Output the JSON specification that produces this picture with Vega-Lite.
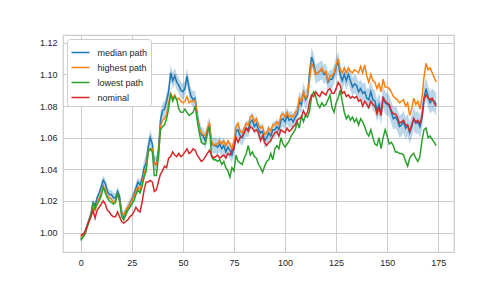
{
"$schema":"https://vega.github.io/schema/vega-lite/v6.json",
"width":391,"height":217,
"autosize":{"type":"none"},
"padding":{"left":63,"top":35,"right":50,"bottom":36},
"background":"white",
"config":{"view":{"stroke":"#cccccc","strokeWidth":1.25},"font":"Liberation Sans",
"axis":{"domain":false,"ticks":false,"grid":true,"gridColor":"#cccccc","gridWidth":1,"labelColor":"#262626","labelFontSize":9,"labelFont":"Liberation Sans","title":null,"labelOverlap":false},
"legend":{"labelFont":"Liberation Sans","labelFontSize":9,"labelColor":"#262626"}},
"data":{"values":[
{"x":0,"m":0.996,"h":0.997,"l":0.995,"n":0.998,"lo":0.994,"hi":0.998},
{"x":1,"m":0.998,"h":0.998,"l":0.997,"n":0.999,"lo":0.996,"hi":1.000},
{"x":2,"m":1.000,"h":0.999,"l":0.999,"n":1.000,"lo":0.998,"hi":1.002},
{"x":3,"m":1.004,"h":1.003,"l":1.003,"n":1.004,"lo":1.002,"hi":1.006},
{"x":4,"m":1.008,"h":1.007,"l":1.007,"n":1.007,"lo":1.006,"hi":1.010},
{"x":5,"m":1.012,"h":1.011,"l":1.011,"n":1.010,"lo":1.010,"hi":1.014},
{"x":6,"m":1.019,"h":1.016,"l":1.019,"n":1.014,"lo":1.017,"hi":1.021},
{"x":7,"m":1.017,"h":1.014,"l":1.015,"n":1.009,"lo":1.015,"hi":1.019},
{"x":8,"m":1.022,"h":1.018,"l":1.018,"n":1.014,"lo":1.020,"hi":1.024},
{"x":9,"m":1.025,"h":1.022,"l":1.020,"n":1.016,"lo":1.023,"hi":1.027},
{"x":10,"m":1.029,"h":1.025,"l":1.023,"n":1.018,"lo":1.026,"hi":1.032},
{"x":11,"m":1.033,"h":1.029,"l":1.029,"n":1.020,"lo":1.030,"hi":1.036},
{"x":12,"m":1.031,"h":1.027,"l":1.025,"n":1.018,"lo":1.028,"hi":1.034},
{"x":13,"m":1.026,"h":1.023,"l":1.022,"n":1.014,"lo":1.023,"hi":1.029},
{"x":14,"m":1.024,"h":1.022,"l":1.020,"n":1.013,"lo":1.021,"hi":1.027},
{"x":15,"m":1.024,"h":1.021,"l":1.019,"n":1.011,"lo":1.021,"hi":1.027},
{"x":16,"m":1.022,"h":1.019,"l":1.018,"n":1.010,"lo":1.019,"hi":1.025},
{"x":17,"m":1.022,"h":1.020,"l":1.019,"n":1.010,"lo":1.019,"hi":1.025},
{"x":18,"m":1.026,"h":1.024,"l":1.025,"n":1.013,"lo":1.023,"hi":1.029},
{"x":19,"m":1.023,"h":1.020,"l":1.020,"n":1.010,"lo":1.020,"hi":1.026},
{"x":20,"m":1.013,"h":1.012,"l":1.010,"n":1.007,"lo":1.010,"hi":1.016},
{"x":21,"m":1.010,"h":1.011,"l":1.008,"n":1.006,"lo":1.007,"hi":1.013},
{"x":22,"m":1.013,"h":1.014,"l":1.011,"n":1.007,"lo":1.010,"hi":1.016},
{"x":23,"m":1.016,"h":1.016,"l":1.014,"n":1.008,"lo":1.013,"hi":1.019},
{"x":24,"m":1.018,"h":1.018,"l":1.016,"n":1.010,"lo":1.015,"hi":1.021},
{"x":25,"m":1.021,"h":1.020,"l":1.018,"n":1.011,"lo":1.018,"hi":1.024},
{"x":26,"m":1.024,"h":1.023,"l":1.020,"n":1.013,"lo":1.021,"hi":1.027},
{"x":27,"m":1.028,"h":1.026,"l":1.024,"n":1.016,"lo":1.025,"hi":1.031},
{"x":28,"m":1.032,"h":1.029,"l":1.027,"n":1.014,"lo":1.029,"hi":1.035},
{"x":29,"m":1.030,"h":1.027,"l":1.025,"n":1.013,"lo":1.027,"hi":1.033},
{"x":30,"m":1.034,"h":1.031,"l":1.029,"n":1.019,"lo":1.031,"hi":1.037},
{"x":31,"m":1.041,"h":1.037,"l":1.035,"n":1.027,"lo":1.036,"hi":1.046},
{"x":32,"m":1.044,"h":1.041,"l":1.039,"n":1.032,"lo":1.039,"hi":1.049},
{"x":33,"m":1.054,"h":1.051,"l":1.051,"n":1.032,"lo":1.049,"hi":1.059},
{"x":34,"m":1.060,"h":1.053,"l":1.053,"n":1.033,"lo":1.055,"hi":1.065},
{"x":35,"m":1.056,"h":1.053,"l":1.051,"n":1.032,"lo":1.051,"hi":1.061},
{"x":36,"m":1.044,"h":1.043,"l":1.036,"n":1.026,"lo":1.039,"hi":1.049},
{"x":37,"m":1.043,"h":1.043,"l":1.036,"n":1.027,"lo":1.038,"hi":1.048},
{"x":38,"m":1.052,"h":1.048,"l":1.047,"n":1.032,"lo":1.047,"hi":1.057},
{"x":39,"m":1.071,"h":1.067,"l":1.065,"n":1.037,"lo":1.066,"hi":1.076},
{"x":40,"m":1.077,"h":1.071,"l":1.067,"n":1.039,"lo":1.072,"hi":1.082},
{"x":41,"m":1.078,"h":1.072,"l":1.068,"n":1.042,"lo":1.073,"hi":1.083},
{"x":42,"m":1.083,"h":1.075,"l":1.072,"n":1.041,"lo":1.078,"hi":1.088},
{"x":43,"m":1.089,"h":1.082,"l":1.078,"n":1.047,"lo":1.084,"hi":1.094},
{"x":44,"m":1.101,"h":1.088,"l":1.088,"n":1.048,"lo":1.096,"hi":1.106},
{"x":45,"m":1.096,"h":1.085,"l":1.083,"n":1.051,"lo":1.091,"hi":1.101},
{"x":46,"m":1.099,"h":1.087,"l":1.086,"n":1.049,"lo":1.094,"hi":1.104},
{"x":47,"m":1.095,"h":1.084,"l":1.084,"n":1.048,"lo":1.090,"hi":1.100},
{"x":48,"m":1.093,"h":1.085,"l":1.078,"n":1.050,"lo":1.088,"hi":1.098},
{"x":49,"m":1.090,"h":1.083,"l":1.076,"n":1.048,"lo":1.085,"hi":1.095},
{"x":50,"m":1.089,"h":1.082,"l":1.076,"n":1.049,"lo":1.084,"hi":1.094},
{"x":51,"m":1.091,"h":1.083,"l":1.078,"n":1.051,"lo":1.086,"hi":1.096},
{"x":52,"m":1.099,"h":1.086,"l":1.076,"n":1.053,"lo":1.094,"hi":1.104},
{"x":53,"m":1.091,"h":1.082,"l":1.074,"n":1.050,"lo":1.086,"hi":1.096},
{"x":54,"m":1.086,"h":1.083,"l":1.075,"n":1.051,"lo":1.081,"hi":1.091},
{"x":55,"m":1.084,"h":1.083,"l":1.076,"n":1.053,"lo":1.079,"hi":1.089},
{"x":56,"m":1.085,"h":1.084,"l":1.080,"n":1.052,"lo":1.080,"hi":1.090},
{"x":57,"m":1.074,"h":1.073,"l":1.071,"n":1.049,"lo":1.069,"hi":1.079},
{"x":58,"m":1.067,"h":1.066,"l":1.063,"n":1.047,"lo":1.062,"hi":1.072},
{"x":59,"m":1.062,"h":1.063,"l":1.057,"n":1.045,"lo":1.057,"hi":1.067},
{"x":60,"m":1.061,"h":1.062,"l":1.056,"n":1.046,"lo":1.056,"hi":1.066},
{"x":61,"m":1.058,"h":1.061,"l":1.056,"n":1.048,"lo":1.053,"hi":1.063},
{"x":62,"m":1.065,"h":1.066,"l":1.063,"n":1.050,"lo":1.060,"hi":1.070},
{"x":63,"m":1.068,"h":1.069,"l":1.067,"n":1.052,"lo":1.063,"hi":1.073},
{"x":64,"m":1.056,"h":1.058,"l":1.048,"n":1.049,"lo":1.051,"hi":1.061},
{"x":65,"m":1.055,"h":1.055,"l":1.046,"n":1.047,"lo":1.050,"hi":1.060},
{"x":66,"m":1.055,"h":1.056,"l":1.046,"n":1.048,"lo":1.050,"hi":1.060},
{"x":67,"m":1.054,"h":1.056,"l":1.045,"n":1.049,"lo":1.049,"hi":1.059},
{"x":68,"m":1.056,"h":1.058,"l":1.046,"n":1.047,"lo":1.051,"hi":1.061},
{"x":69,"m":1.053,"h":1.056,"l":1.043,"n":1.048,"lo":1.048,"hi":1.058},
{"x":70,"m":1.055,"h":1.058,"l":1.045,"n":1.049,"lo":1.050,"hi":1.060},
{"x":71,"m":1.051,"h":1.055,"l":1.041,"n":1.047,"lo":1.046,"hi":1.056},
{"x":72,"m":1.054,"h":1.058,"l":1.039,"n":1.050,"lo":1.049,"hi":1.059},
{"x":73,"m":1.052,"h":1.056,"l":1.035,"n":1.049,"lo":1.047,"hi":1.057},
{"x":74,"m":1.049,"h":1.053,"l":1.041,"n":1.052,"lo":1.044,"hi":1.054},
{"x":75,"m":1.054,"h":1.058,"l":1.039,"n":1.053,"lo":1.049,"hi":1.059},
{"x":76,"m":1.064,"h":1.067,"l":1.049,"n":1.060,"lo":1.059,"hi":1.069},
{"x":77,"m":1.065,"h":1.069,"l":1.045,"n":1.057,"lo":1.060,"hi":1.070},
{"x":78,"m":1.061,"h":1.064,"l":1.044,"n":1.060,"lo":1.056,"hi":1.066},
{"x":79,"m":1.060,"h":1.063,"l":1.043,"n":1.061,"lo":1.055,"hi":1.065},
{"x":80,"m":1.063,"h":1.066,"l":1.047,"n":1.063,"lo":1.058,"hi":1.068},
{"x":81,"m":1.066,"h":1.069,"l":1.050,"n":1.066,"lo":1.061,"hi":1.071},
{"x":82,"m":1.065,"h":1.068,"l":1.055,"n":1.064,"lo":1.060,"hi":1.070},
{"x":83,"m":1.070,"h":1.073,"l":1.049,"n":1.067,"lo":1.065,"hi":1.075},
{"x":84,"m":1.071,"h":1.074,"l":1.051,"n":1.066,"lo":1.066,"hi":1.076},
{"x":85,"m":1.067,"h":1.070,"l":1.048,"n":1.064,"lo":1.062,"hi":1.072},
{"x":86,"m":1.069,"h":1.072,"l":1.047,"n":1.065,"lo":1.064,"hi":1.074},
{"x":87,"m":1.065,"h":1.068,"l":1.043,"n":1.063,"lo":1.060,"hi":1.070},
{"x":88,"m":1.063,"h":1.066,"l":1.041,"n":1.058,"lo":1.058,"hi":1.068},
{"x":89,"m":1.064,"h":1.067,"l":1.038,"n":1.061,"lo":1.059,"hi":1.069},
{"x":90,"m":1.058,"h":1.062,"l":1.042,"n":1.057,"lo":1.053,"hi":1.063},
{"x":91,"m":1.060,"h":1.063,"l":1.045,"n":1.055,"lo":1.055,"hi":1.065},
{"x":92,"m":1.063,"h":1.066,"l":1.046,"n":1.057,"lo":1.058,"hi":1.068},
{"x":93,"m":1.061,"h":1.064,"l":1.050,"n":1.058,"lo":1.056,"hi":1.066},
{"x":94,"m":1.065,"h":1.068,"l":1.046,"n":1.061,"lo":1.060,"hi":1.070},
{"x":95,"m":1.065,"h":1.068,"l":1.053,"n":1.063,"lo":1.060,"hi":1.070},
{"x":96,"m":1.067,"h":1.070,"l":1.055,"n":1.064,"lo":1.062,"hi":1.072},
{"x":97,"m":1.065,"h":1.068,"l":1.053,"n":1.061,"lo":1.060,"hi":1.070},
{"x":98,"m":1.071,"h":1.074,"l":1.060,"n":1.065,"lo":1.066,"hi":1.076},
{"x":99,"m":1.072,"h":1.075,"l":1.056,"n":1.064,"lo":1.067,"hi":1.077},
{"x":100,"m":1.070,"h":1.073,"l":1.054,"n":1.063,"lo":1.065,"hi":1.075},
{"x":101,"m":1.074,"h":1.076,"l":1.056,"n":1.066,"lo":1.069,"hi":1.079},
{"x":102,"m":1.071,"h":1.073,"l":1.058,"n":1.064,"lo":1.066,"hi":1.076},
{"x":103,"m":1.072,"h":1.074,"l":1.061,"n":1.065,"lo":1.067,"hi":1.077},
{"x":104,"m":1.070,"h":1.073,"l":1.063,"n":1.067,"lo":1.065,"hi":1.075},
{"x":105,"m":1.073,"h":1.076,"l":1.065,"n":1.068,"lo":1.068,"hi":1.078},
{"x":106,"m":1.075,"h":1.077,"l":1.070,"n":1.071,"lo":1.069,"hi":1.081},
{"x":107,"m":1.083,"h":1.085,"l":1.066,"n":1.072,"lo":1.077,"hi":1.089},
{"x":108,"m":1.081,"h":1.083,"l":1.074,"n":1.073,"lo":1.075,"hi":1.087},
{"x":109,"m":1.089,"h":1.089,"l":1.070,"n":1.077,"lo":1.083,"hi":1.095},
{"x":110,"m":1.084,"h":1.085,"l":1.074,"n":1.074,"lo":1.078,"hi":1.090},
{"x":111,"m":1.086,"h":1.087,"l":1.073,"n":1.076,"lo":1.080,"hi":1.092},
{"x":112,"m":1.101,"h":1.096,"l":1.077,"n":1.083,"lo":1.095,"hi":1.107},
{"x":113,"m":1.111,"h":1.107,"l":1.086,"n":1.087,"lo":1.105,"hi":1.117},
{"x":114,"m":1.107,"h":1.104,"l":1.089,"n":1.086,"lo":1.101,"hi":1.113},
{"x":115,"m":1.100,"h":1.100,"l":1.086,"n":1.089,"lo":1.094,"hi":1.106},
{"x":116,"m":1.101,"h":1.101,"l":1.081,"n":1.087,"lo":1.095,"hi":1.107},
{"x":117,"m":1.102,"h":1.102,"l":1.079,"n":1.086,"lo":1.096,"hi":1.108},
{"x":118,"m":1.103,"h":1.104,"l":1.082,"n":1.089,"lo":1.097,"hi":1.109},
{"x":119,"m":1.100,"h":1.101,"l":1.080,"n":1.088,"lo":1.094,"hi":1.106},
{"x":120,"m":1.101,"h":1.102,"l":1.081,"n":1.087,"lo":1.095,"hi":1.107},
{"x":121,"m":1.095,"h":1.096,"l":1.084,"n":1.090,"lo":1.089,"hi":1.101},
{"x":122,"m":1.097,"h":1.099,"l":1.087,"n":1.091,"lo":1.091,"hi":1.103},
{"x":123,"m":1.097,"h":1.099,"l":1.079,"n":1.088,"lo":1.091,"hi":1.103},
{"x":124,"m":1.100,"h":1.101,"l":1.076,"n":1.088,"lo":1.094,"hi":1.106},
{"x":125,"m":1.105,"h":1.106,"l":1.082,"n":1.091,"lo":1.099,"hi":1.111},
{"x":126,"m":1.108,"h":1.110,"l":1.085,"n":1.095,"lo":1.102,"hi":1.114},
{"x":127,"m":1.100,"h":1.103,"l":1.090,"n":1.093,"lo":1.094,"hi":1.106},
{"x":128,"m":1.096,"h":1.101,"l":1.083,"n":1.088,"lo":1.090,"hi":1.102},
{"x":129,"m":1.100,"h":1.104,"l":1.076,"n":1.089,"lo":1.094,"hi":1.106},
{"x":130,"m":1.096,"h":1.101,"l":1.072,"n":1.086,"lo":1.090,"hi":1.102},
{"x":131,"m":1.100,"h":1.104,"l":1.074,"n":1.087,"lo":1.094,"hi":1.106},
{"x":132,"m":1.096,"h":1.102,"l":1.071,"n":1.085,"lo":1.090,"hi":1.102},
{"x":133,"m":1.092,"h":1.101,"l":1.073,"n":1.086,"lo":1.086,"hi":1.098},
{"x":134,"m":1.094,"h":1.103,"l":1.070,"n":1.085,"lo":1.088,"hi":1.100},
{"x":135,"m":1.093,"h":1.102,"l":1.072,"n":1.086,"lo":1.087,"hi":1.099},
{"x":136,"m":1.089,"h":1.101,"l":1.068,"n":1.083,"lo":1.083,"hi":1.095},
{"x":137,"m":1.091,"h":1.105,"l":1.072,"n":1.084,"lo":1.085,"hi":1.097},
{"x":138,"m":1.088,"h":1.101,"l":1.070,"n":1.080,"lo":1.082,"hi":1.094},
{"x":139,"m":1.089,"h":1.106,"l":1.067,"n":1.083,"lo":1.083,"hi":1.095},
{"x":140,"m":1.085,"h":1.099,"l":1.063,"n":1.081,"lo":1.079,"hi":1.091},
{"x":141,"m":1.084,"h":1.095,"l":1.061,"n":1.079,"lo":1.077,"hi":1.091},
{"x":142,"m":1.089,"h":1.100,"l":1.065,"n":1.083,"lo":1.082,"hi":1.096},
{"x":143,"m":1.084,"h":1.096,"l":1.060,"n":1.081,"lo":1.077,"hi":1.091},
{"x":144,"m":1.083,"h":1.095,"l":1.056,"n":1.080,"lo":1.076,"hi":1.090},
{"x":145,"m":1.077,"h":1.091,"l":1.055,"n":1.075,"lo":1.070,"hi":1.084},
{"x":146,"m":1.081,"h":1.094,"l":1.060,"n":1.079,"lo":1.074,"hi":1.088},
{"x":147,"m":1.075,"h":1.089,"l":1.053,"n":1.074,"lo":1.068,"hi":1.082},
{"x":148,"m":1.086,"h":1.097,"l":1.060,"n":1.085,"lo":1.079,"hi":1.093},
{"x":149,"m":1.082,"h":1.092,"l":1.065,"n":1.083,"lo":1.075,"hi":1.089},
{"x":150,"m":1.081,"h":1.092,"l":1.061,"n":1.082,"lo":1.074,"hi":1.088},
{"x":151,"m":1.080,"h":1.091,"l":1.056,"n":1.081,"lo":1.073,"hi":1.087},
{"x":152,"m":1.076,"h":1.089,"l":1.057,"n":1.077,"lo":1.069,"hi":1.083},
{"x":153,"m":1.072,"h":1.086,"l":1.055,"n":1.075,"lo":1.065,"hi":1.079},
{"x":154,"m":1.073,"h":1.085,"l":1.051,"n":1.075,"lo":1.066,"hi":1.080},
{"x":155,"m":1.071,"h":1.084,"l":1.051,"n":1.073,"lo":1.064,"hi":1.078},
{"x":156,"m":1.067,"h":1.082,"l":1.050,"n":1.069,"lo":1.060,"hi":1.074},
{"x":157,"m":1.068,"h":1.083,"l":1.050,"n":1.070,"lo":1.061,"hi":1.075},
{"x":158,"m":1.070,"h":1.084,"l":1.049,"n":1.071,"lo":1.063,"hi":1.077},
{"x":159,"m":1.066,"h":1.080,"l":1.045,"n":1.068,"lo":1.059,"hi":1.073},
{"x":160,"m":1.068,"h":1.082,"l":1.042,"n":1.068,"lo":1.061,"hi":1.075},
{"x":161,"m":1.063,"h":1.074,"l":1.047,"n":1.064,"lo":1.056,"hi":1.070},
{"x":162,"m":1.067,"h":1.078,"l":1.049,"n":1.068,"lo":1.060,"hi":1.074},
{"x":163,"m":1.072,"h":1.085,"l":1.050,"n":1.072,"lo":1.065,"hi":1.079},
{"x":164,"m":1.069,"h":1.081,"l":1.047,"n":1.070,"lo":1.062,"hi":1.076},
{"x":165,"m":1.070,"h":1.083,"l":1.045,"n":1.071,"lo":1.063,"hi":1.077},
{"x":166,"m":1.067,"h":1.078,"l":1.048,"n":1.069,"lo":1.060,"hi":1.074},
{"x":167,"m":1.072,"h":1.085,"l":1.058,"n":1.073,"lo":1.065,"hi":1.079},
{"x":168,"m":1.085,"h":1.098,"l":1.065,"n":1.084,"lo":1.078,"hi":1.092},
{"x":169,"m":1.091,"h":1.107,"l":1.066,"n":1.087,"lo":1.084,"hi":1.098},
{"x":170,"m":1.086,"h":1.103,"l":1.060,"n":1.085,"lo":1.079,"hi":1.093},
{"x":171,"m":1.082,"h":1.104,"l":1.061,"n":1.084,"lo":1.075,"hi":1.089},
{"x":172,"m":1.084,"h":1.101,"l":1.059,"n":1.085,"lo":1.077,"hi":1.091},
{"x":173,"m":1.083,"h":1.098,"l":1.057,"n":1.082,"lo":1.076,"hi":1.090},
{"x":174,"m":1.081,"h":1.095,"l":1.055,"n":1.080,"lo":1.074,"hi":1.088}
]},
"layer":[
{"mark":{"type":"area","color":"#1f77b4","opacity":0.3},
 "encoding":{
  "x":{"field":"x","type":"quantitative","scale":{"domain":[-8.7,182.7],"nice":false,"zero":false},"axis":{"values":[0,25,50,75,100,125,150,175],"labelPadding":6}},
  "y":{"field":"lo","type":"quantitative","scale":{"domain":[0.9877,1.1249],"nice":false,"zero":false},"axis":{"values":[1.0,1.02,1.04,1.06,1.08,1.1,1.12],"format":".2f","labelPadding":6,"tickCount":7}},
  "y2":{"field":"hi"}}},
{"transform":[{"fold":["m","h","l","n"],"as":["s","v"]}],
 "mark":{"type":"line","strokeWidth":1.5},
 "encoding":{
  "x":{"field":"x","type":"quantitative","axis":{"values":[0,25,50,75,100,125,150,175],"labelPadding":6}},
  "y":{"field":"v","type":"quantitative","axis":{"values":[1.0,1.02,1.04,1.06,1.08,1.1,1.12],"format":".2f","labelPadding":6,"tickCount":7}},
  "color":{"field":"s","type":"nominal","scale":{"domain":["m","h","l","n"],"range":["#1f77b4","#ff7f0e","#2ca02c","#d62728"]},
   "legend":{"title":null,"orient":"none","legendX":4,"legendY":4,"symbolType":"stroke","symbolSize":324,"symbolStrokeWidth":1.5,"padding":3.5,"rowPadding":-4.5,"labelOffset":7,"strokeColor":"#cccccc","fillColor":"white","cornerRadius":3,
   "labelExpr":"{'m':'median path','h':'highest path','l':'lowest path','n':'nominal'}[datum.label]"}}}}
]
}
